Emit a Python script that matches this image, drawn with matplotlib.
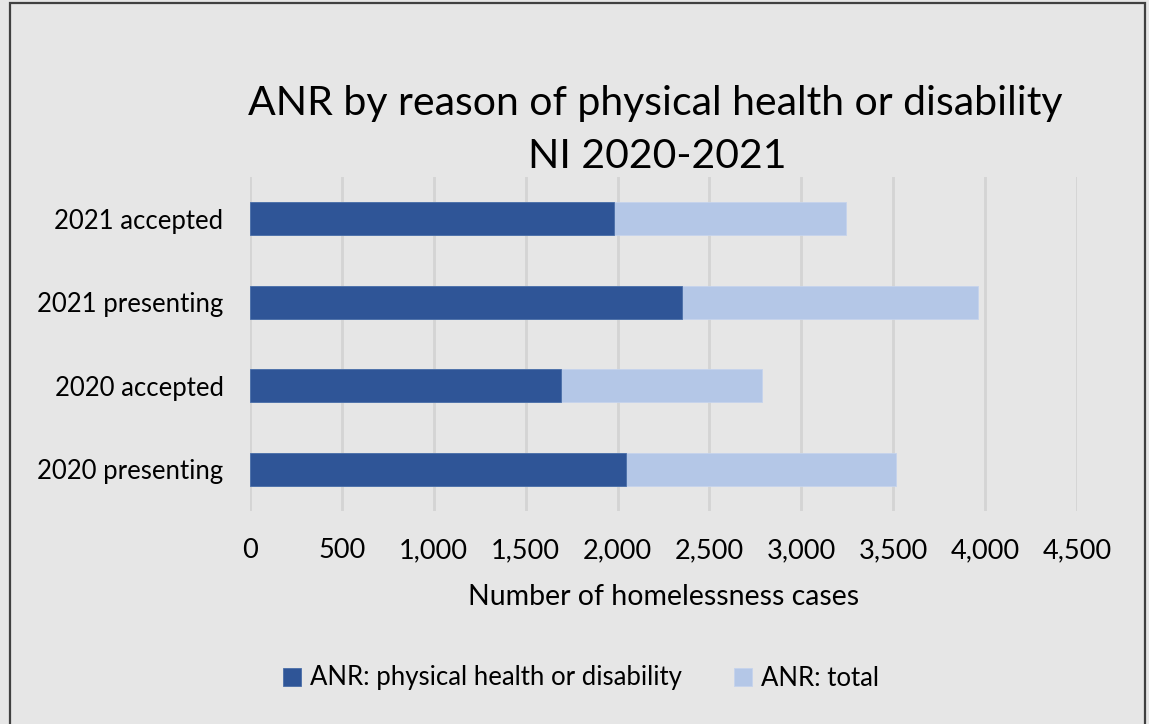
import matplotlib.pyplot as plt
from matplotlib.patches import Rectangle
from matplotlib.ticker import FuncFormatter

categories = ['2020 presenting', '2020 accepted', '2021 presenting', '2021 accepted']
anr_physical = [2048, 1691, 2353, 1981]
anr_total = [3515, 2785, 3962, 3241]
x_ticks = [0, 500, 1000, 1500, 2000, 2500, 3000, 3500, 4000, 4500]

dark = '#2f5597'
light = '#b4c7e7'
bg = '#e6e6e6'
W, H = 1149, 724

plt.rcParams['font.family'] = ['Lato', 'DejaVu Sans']

fig = plt.figure(figsize=(W / 100, H / 100), dpi=100)
fig.patch.set_facecolor(bg)

# outer frame of the chart area
fig.patches.append(Rectangle((10 / W, -0.05), 1135 / W, 1.05 - 3 / H,
                             transform=fig.transFigure, fill=False,
                             edgecolor='#404040', linewidth=1.6))

ax = fig.add_axes([250 / W, 1 - 511 / H, 827 / W, 334 / H])
ax.set_facecolor(bg)

y = range(len(categories))
ax.barh(y, anr_total, height=0.4, color=light, edgecolor='#c5d3ec', linewidth=0.6,
        label='ANR: total', zorder=2)
ax.barh(y, anr_physical, height=0.4, color=dark, edgecolor='#4a6ea8', linewidth=0.6,
        label='ANR: physical health or disability', zorder=3)

ax.set_xlim(0, 4500)
ax.set_ylim(-0.5, 3.5)
ax.set_xticks(x_ticks)
ax.xaxis.set_major_formatter(FuncFormatter(lambda v, p: f'{int(v):,}'))
ax.set_yticks(list(y))
ax.set_yticklabels(categories, fontsize=18.5)
ax.tick_params(axis='both', length=0, colors='#000000')
ax.tick_params(axis='x', pad=19.5, labelsize=19.5)
ax.tick_params(axis='y', pad=19)
ax.grid(axis='x', color='#d4d4d4', linewidth=2, zorder=0)
for s in ax.spines.values():
    s.set_visible(False)

ax.set_xlabel('Number of homelessness cases', fontsize=20.5, labelpad=15)

fig.text(655 / W, 1 - 103 / H, 'ANR by reason of physical health or disability',
         ha='center', va='center', fontsize=29.5)
fig.text(657 / W, 1 - 157 / H, 'NI 2020-2021',
         ha='center', va='center', fontsize=29.5)

handles, labels = ax.get_legend_handles_labels()
leg = fig.legend(handles[::-1], labels[::-1], loc='center', bbox_to_anchor=(581 / W, 1 - 678 / H),
                 ncol=2, frameon=False, fontsize=18.5, handlelength=0.7, handleheight=0.7,
                 handletextpad=0.35, columnspacing=2.0)

plt.savefig('out.png', dpi=100, facecolor=bg)
